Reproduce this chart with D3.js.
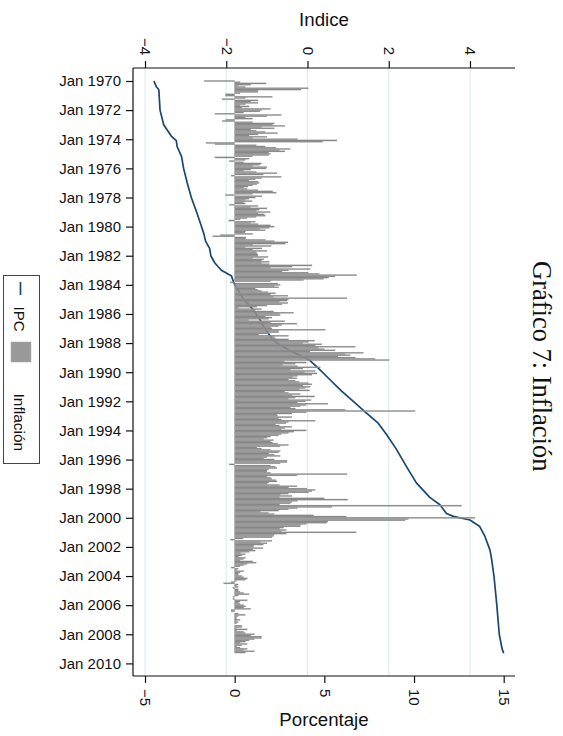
<!DOCTYPE html>
<html><head><meta charset="utf-8">
<script src="https://cdn.jsdelivr.net/npm/d3@7"></script>
<style>
body{margin:0;background:#fff}
svg{display:block}
text{font-family:"Liberation Sans",Arial,sans-serif;fill:#111}
</style>
</head><body>
<svg id="c" width="563" height="736"></svg>
<script>
// ---------- DATA ----------
const startYear = 1970;
const dateTicks = [0,24,48,72,96,120,144,168,192,216,240,264,288,312,336,360,384,408,432,456,480]; // months since Jan 1970
const dateTickLabels = ["Jan 1970","Jan 1972","Jan 1974","Jan 1976","Jan 1978","Jan 1980","Jan 1982","Jan 1984",
  "Jan 1986","Jan 1988","Jan 1990","Jan 1992","Jan 1994","Jan 1996","Jan 1998","Jan 2000","Jan 2002","Jan 2004",
  "Jan 2006","Jan 2008","Jan 2010"];
const indiceTicks = [-4,-2,0,2,4];
const porcentajeTicks = [-5,0,5,10,15];

// Monthly inflation (%), Jan 1970 – Apr 2009, one row per year
const inflacion = [
  -1.7,0.3,1.75,0.9,0.2,0.6,4.1,3.7,1.3,1.3,0.3,-0.5,
  -0.5,2.1,0.6,-0.7,1.3,0.9,1.3,0.6,0.3,0.8,0.4,2.0,
  1.5,1.4,0.5,-1.1,2.6,1.8,0.6,1.0,-0.5,-0.7,1.0,2.2,
  2.1,2.8,1.5,2.2,0.9,1.2,1.7,2.4,1.3,0.8,1.8,1.0,
  3.5,5.7,4.9,-1.6,-1.1,1.2,1.7,2.3,3.1,2.5,2.8,1.9,
  2.0,1.9,1.0,-1.1,0.8,0.6,-0.3,0.5,1.5,1.4,1.0,1.8,
  1.75,0.9,0.5,1.2,2.36,1.6,-0.2,2.6,1.5,1.15,0.8,1.3,
  1.37,1.24,1.0,0.74,0.5,0.69,1.3,2.12,2.32,1.0,-0.52,1.52,
  1.15,0.8,0.6,0.97,0.5,0.6,-0.3,1.3,0.9,1.8,1.37,1.2,
  1.99,1.3,1.65,1.71,1.2,0.69,0.3,-0.33,1.15,0.9,1.3,1.99,
  2.21,1.93,1.4,1.71,0.6,0.56,1.0,-0.8,-1.22,0.63,0.6,1.71,
  2.2,2.97,2.82,1.0,2.04,0.6,1.52,1.0,1.8,1.2,1.24,1.3,
  1.3,1.86,1.0,1.62,1.5,1.93,1.5,1.93,4.31,3.2,2.0,4.22,
  3.0,2.64,4.1,4.72,6.81,5.6,5.24,4.96,3.84,2.0,-0.25,2.41,
  2.54,2.2,2.45,1.15,1.3,1.5,1.86,2.27,2.0,2.97,2.17,6.26,
  3.0,2.92,2.5,2.97,2.64,1.8,1.24,0.22,1.5,1.15,2.17,3.29,
  2.5,2.54,1.71,2.08,1.9,0.78,2.79,2.0,3.47,2.64,2.45,2.0,
  2.08,5.05,2.45,2.45,1.89,1.34,3.0,2.2,2.27,3.0,4.46,4.12,
  3.8,4.86,4.5,6.72,4.68,5.0,5.6,4.2,7.18,6.16,6.44,5.76,
  6.72,7.83,8.61,2.76,4.0,3.38,2.68,3.5,4.77,3.8,3.1,4.49,
  3.9,4.59,4.31,3.5,3.23,3.47,3.0,3.38,3.6,4.12,4.31,3.8,
  4.22,3.94,3.6,4.18,2.79,3.0,3.66,3.2,4.46,3.38,3.0,4.27,
  3.94,3.5,5.2,4.0,3.66,3.1,3.38,6.16,10.06,4.0,3.19,2.36,
  2.4,3.19,2.45,2.6,4.49,3.0,2.86,2.27,2.5,3.19,2.8,2.6,
  3.99,3.3,3.0,2.6,2.45,1.99,1.8,1.62,2.17,2.0,2.12,2.4,
  3.0,2.54,1.24,1.5,1.99,2.54,2.45,1.9,2.2,2.54,1.8,1.62,
  2.2,2.92,2.92,2.54,-0.3,2.0,2.27,2.36,1.9,1.8,1.8,2.0,
  6.26,3.47,1.8,2.0,2.08,2.3,2.36,1.9,1.8,2.5,3.47,3.0,
  4.03,4.49,4.31,4.12,3.0,2.54,3.19,2.5,4.99,6.31,3.5,3.19,
  3.1,2.5,12.66,5.42,3.5,3.0,2.45,1.43,1.89,2.2,4.4,6.22,
  13.4,9.69,9.5,5.2,5.14,4.0,3.66,3.66,2.73,2.51,2.88,2.6,
  6.77,2.88,2.2,2.17,2.08,0.47,-0.24,2.08,1.43,1.8,1.6,1.06,
  1.06,1.58,1.0,1.15,0.8,0.32,0.6,0.4,0.22,0.6,0.5,0.3,
  1.0,1.2,0.7,0.5,0.3,-0.2,0.2,0.1,0.5,0.3,0.2,0.2,
  0.4,0.5,0.7,0.6,0.1,-0.2,-0.61,0.2,0.1,0.2,-0.1,0.2,
  0.2,0.3,0.5,0.8,0.2,-0.1,0.0,-0.1,0.7,0.3,0.2,0.3,
  0.5,0.6,0.5,0.9,-0.2,-0.2,0.0,0.2,0.6,0.2,0.1,0.1,
  0.3,0.1,0.2,0.1,0.0,0.4,0.4,0.1,0.7,0.1,0.5,0.6,
  1.1,0.9,1.5,1.5,1.1,0.8,0.6,0.3,0.7,0.4,0.1,0.3,
  0.7,0.5,1.1,0.6
];

// IPC index (Indice axis), read at dates (decimal years)
const ipcYears = [1970.0,1970.4,1970.6,1972.0,1973.0,1973.8,1974.1,1974.5,1975.2,1976.0,1977.0,1978.0,1979.0,
  1980.0,1980.5,1981.0,1981.5,1982.0,1982.5,1983.0,1983.4,1983.8,1984.0,1985.0,1985.7,1986.4,1987.0,1987.7,
  1988.0,1988.5,1989.0,1989.2,1989.7,1990.4,1991.3,1992.1,1992.7,1993.5,1994.3,1995.3,1996.5,1997.6,1998.6,
  1999.1,1999.7,1999.9,2000.15,2000.6,2001.3,2002.2,2002.8,2004.0,2006.0,2008.0,2009.0,2009.3];
const ipcValues = [-3.78,-3.72,-3.66,-3.63,-3.54,-3.35,-3.23,-3.21,-3.10,-3.05,-2.96,-2.86,-2.73,
  -2.61,-2.55,-2.51,-2.41,-2.38,-2.28,-2.12,-1.87,-1.82,-1.79,-1.57,-1.34,-1.17,-1.05,-0.87,
  -0.76,-0.45,-0.06,0.06,0.26,0.51,0.84,1.17,1.41,1.74,1.95,2.19,2.44,2.68,3.01,
  3.26,3.42,3.59,4.00,4.24,4.37,4.49,4.53,4.59,4.66,4.72,4.79,4.83];

// ---------- DRAW ----------
const svg = d3.select("#c");
const X0 = 133, X1 = 515, Y0 = 68, Y1 = 676;

const yT = d3.scaleLinear().domain([0, 480]).range([81, 663.4]);       // months since Jan 1970
const xI = d3.scaleLinear().domain([-4, 4]).range([145, 470]);         // Indice
const xP = d3.scaleLinear().domain([-5, 15]).range([145, 503.7]);      // Porcentaje

// gridlines (Indice)
svg.append("g").selectAll("line").data(indiceTicks).join("line")
  .attr("x1", d => xI(d)).attr("x2", d => xI(d))
  .attr("y1", Y0).attr("y2", Y1)
  .attr("stroke", "#e3ebee").attr("stroke-width", 1.2);

// IPC line (drawn first, under bars)
const ipc = ipcYears.map((t, i) => ({t, v: ipcValues[i]}));
svg.append("path").datum(ipc)
  .attr("fill", "none").attr("stroke", "#1a476f").attr("stroke-width", 1.7)
  .attr("stroke-linejoin", "round")
  .attr("d", d3.line().x(d => xI(d.v)).y(d => yT((d.t - startYear) * 12)));

// inflation bars
const h = yT(1) - yT(0);
svg.append("g").selectAll("rect").data(inflacion).join("rect")
  .attr("x", d => Math.min(xP(0), xP(d)))
  .attr("width", d => Math.abs(xP(d) - xP(0)))
  .attr("y", (d, i) => yT(i) - h / 2)
  .attr("height", h)
  .attr("fill", "#868686")
  .attr("stroke", "#9c9c9c").attr("stroke-width", 0.25);

// axes
const axisStyle = g => {
  g.select(".domain").remove();
  g.selectAll(".tick line").attr("stroke", "#111").attr("stroke-width", 1.2);
  g.selectAll("text").style("font-size", "15px").attr("fill", "#111");
};
const fmtNum = d => d < 0 ? "\u2212" + Math.abs(d) : String(d);

// top axis (Indice)
svg.append("g").attr("transform", `translate(0,${Y0})`)
  .call(d3.axisTop(xI).tickValues(indiceTicks).tickSize(7).tickFormat(fmtNum))
  .call(axisStyle)
  .call(g => g.selectAll("text").attr("x", 0).attr("y", 0).attr("dy", "0.35em")
      .attr("text-anchor", "end").attr("transform", "translate(0,-13) rotate(90)"));

// bottom axis (Porcentaje)
svg.append("g").attr("transform", `translate(0,${Y1})`)
  .call(d3.axisBottom(xP).tickValues(porcentajeTicks).tickSize(7).tickFormat(fmtNum))
  .call(axisStyle)
  .call(g => g.selectAll("text").attr("x", 0).attr("y", 0).attr("dy", "0.35em")
      .attr("text-anchor", "start").attr("transform", "translate(0,13) rotate(90)"));

// left axis (dates)
svg.append("g").attr("transform", `translate(${X0},0)`)
  .call(d3.axisLeft(yT).tickValues(dateTicks).tickSize(7).tickPadding(5)
        .tickFormat((d, i) => dateTickLabels[i]))
  .call(axisStyle);

// axis lines
svg.append("line").attr("x1", X0).attr("x2", X1).attr("y1", Y0).attr("y2", Y0).attr("stroke", "#111").attr("stroke-width", 1.2);
svg.append("line").attr("x1", X0).attr("x2", X1).attr("y1", Y1).attr("y2", Y1).attr("stroke", "#111").attr("stroke-width", 1.2);
svg.append("line").attr("x1", X0).attr("x2", X0).attr("y1", Y0).attr("y2", Y1).attr("stroke", "#111").attr("stroke-width", 1.2);

// axis titles
svg.append("text").attr("x", (X0 + X1) / 2).attr("y", 26).attr("text-anchor", "middle")
  .style("font-size", "18.7px").text("Indice");
svg.append("text").attr("x", (X0 + X1) / 2).attr("y", 726).attr("text-anchor", "middle")
  .style("font-size", "18.7px").text("Porcentaje");

// title (rotated)
svg.append("text").attr("transform", "translate(533,261) rotate(90)")
  .style("font-family", "'Liberation Serif','Times New Roman',serif").style("font-size", "26.5px")
  .text("Gráfico 7: Inflación");

// legend
const lg = svg.append("g");
lg.append("rect").attr("x", 3.5).attr("y", 275.5).attr("width", 36).attr("height", 188)
  .attr("fill", "#fff").attr("stroke", "#444").attr("stroke-width", 1);
lg.append("line").attr("x1", 20.5).attr("x2", 20.5).attr("y1", 282).attr("y2", 295)
  .attr("stroke", "#1a476f").attr("stroke-width", 1.7);
lg.append("text").attr("transform", "translate(19.5,306.5) rotate(90)").attr("dy", "0.35em")
  .style("font-size", "15px").text("IPC");
lg.append("rect").attr("x", 11).attr("y", 342).attr("width", 20).attr("height", 20)
  .attr("fill", "#999").attr("stroke", "#a9a9a9").attr("stroke-width", 0.5);
lg.append("text").attr("transform", "translate(19.5,393.5) rotate(90)").attr("dy", "0.35em")
  .style("font-size", "15.5px").text("Inflación");
</script>
</body></html>
